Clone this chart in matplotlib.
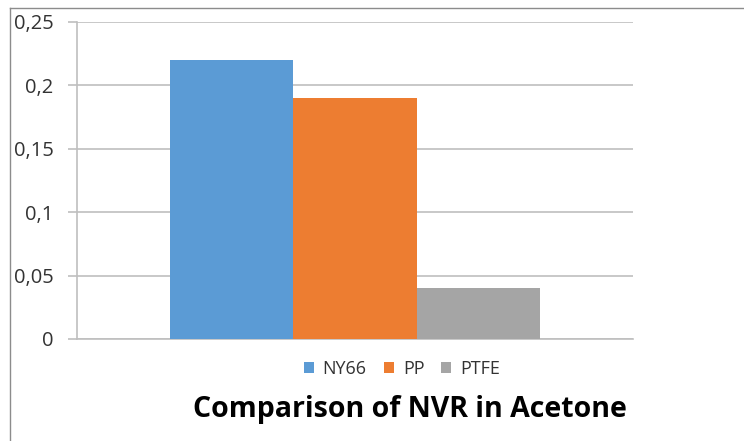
import numpy as np
import matplotlib.pyplot as plt
from matplotlib.lines import Line2D

materials = ['NY66', 'PP', 'PTFE']
nvr = [0.22, 0.19, 0.04]
colors = ['#5B9BD5', '#ED7D31', '#A5A5A5']
yticks = [0, 0.05, 0.1, 0.15, 0.2, 0.25]
ylabels = ['0', '0,05', '0,1', '0,15', '0,2', '0,25']

plt.rcParams['font.family'] = ['Open Sans', 'DejaVu Sans']

fig = plt.figure(figsize=(7.44, 4.41), dpi=100)
ax = fig.add_axes([77/744, 1-339/441, 556/744, 317/441])

# one category, three bars side by side
width = 1/3 * (1 - 1/3)
x0 = -width
for i in range(len(materials)):
    ax.bar(x0 + i*width, nvr[i], width, color=colors[i], label=materials[i], zorder=3)

ax.set_xlim(-0.5, 0.5)
ax.set_ylim(0, 0.25)
ax.set_yticks(yticks)
ax.set_yticklabels(ylabels, fontsize=14.5, color='#333333')
ax.set_xticks([])
ax.grid(axis='y', color='#BFBFBF', linewidth=1.2, zorder=0)
for s in ['top', 'right']:
    ax.spines[s].set_visible(False)
ax.spines['left'].set_color('#BFBFBF')
ax.spines['bottom'].set_color('#BFBFBF')
ax.spines['left'].set_linewidth(1.2)
ax.spines['bottom'].set_linewidth(1.2)
ax.tick_params(axis='y', length=6.5, width=1.2, color='#BFBFBF', pad=10.5)

ax.legend(loc='center', bbox_to_anchor=(402/744, 1-369/441), bbox_transform=fig.transFigure,
          ncol=3, frameon=False, fontsize=13, handlelength=0.55, handleheight=0.55,
          handletextpad=0.5, columnspacing=0.95, labelcolor='#333333')

fig.text(410/744, 1-410/441, 'Comparison of NVR in Acetone', ha='center', va='center',
         fontsize=20.5, fontweight='bold', color='black')

# frame around the chart (top and left edges visible)
fig.add_artist(Line2D([10/744, 1], [1-8/441, 1-8/441], color='#8C8C8C', linewidth=1))
fig.add_artist(Line2D([10/744, 10/744], [0, 1-8/441], color='#8C8C8C', linewidth=1))

fig.savefig('out.png', dpi=100)
